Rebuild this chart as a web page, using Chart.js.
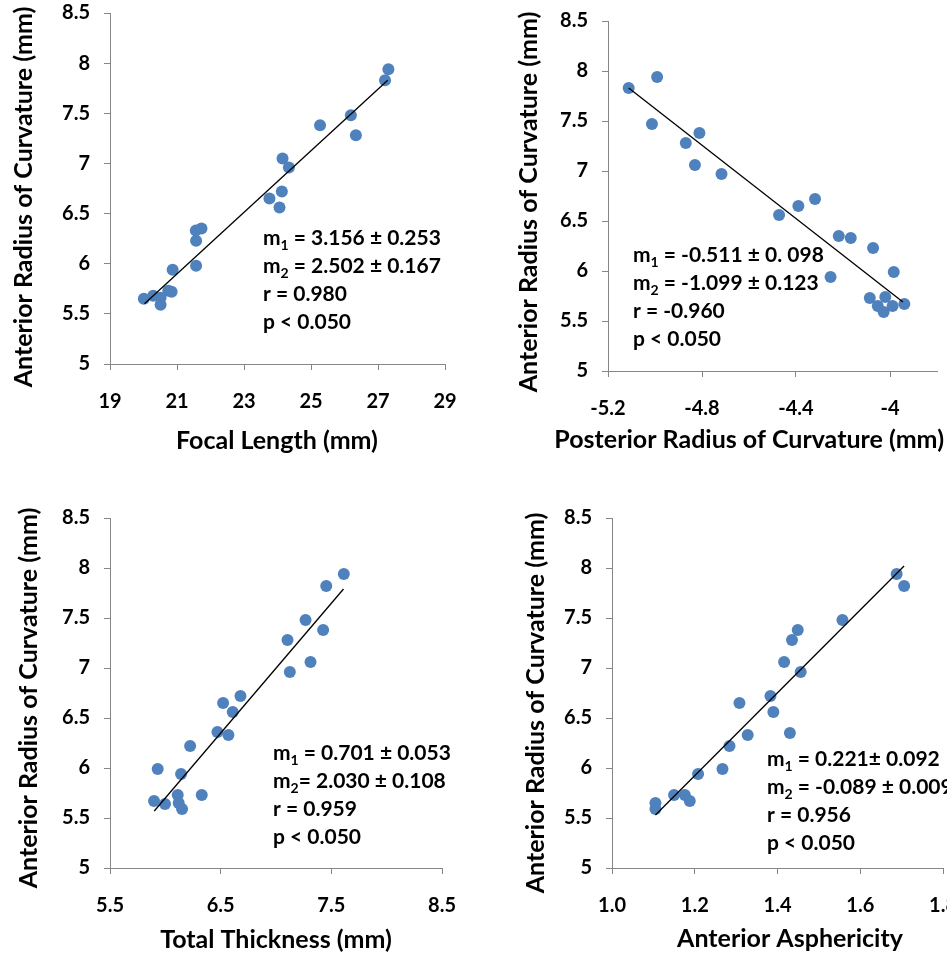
<meta charset="utf8"/>
<style>
html, body { margin: 0; padding: 0; background: #fff; overflow: hidden; width: 947px; height: 957px; }
.panel { position: absolute; }
</style>

<div id="_p1" class="panel" style="left:0; top:0;"><canvas width="470" height="480"></canvas></div>
<div id="_p2" class="panel" style="left:470px; top:0;"><canvas width="477" height="480"></canvas></div>
<div id="_p3" class="panel" style="left:0; top:490px;"><canvas width="470" height="467"></canvas></div>
<div id="_p4" class="panel" style="left:470px; top:490px;"><canvas width="500" height="467"></canvas></div>

<script src="https://cdn.jsdelivr.net/npm/chart.js@4"></script>
<script>
// anterior radius axis, same for all four plots
const yTicks = [5, 5.5, 6, 6.5, 7, 7.5, 8, 8.5];

// focal length vs anterior radius
const focalLen = [20.01, 20.29, 20.51, 20.51, 20.74, 20.84, 20.87, 21.57, 21.57, 21.56, 21.73, 23.76, 24.06, 24.13, 24.15, 24.34, 25.27, 26.19, 26.34, 27.21, 27.31];
const antR1    = [5.65, 5.68, 5.66, 5.59, 5.73, 5.72, 5.94, 5.98, 6.23, 6.33, 6.35, 6.65, 6.56, 6.72, 7.05, 6.96, 7.38, 7.48, 7.28, 7.83, 7.94];
const fit1X = [20.03, 27.29];
const fit1Y = [5.60, 7.83];
const xTicks1 = [19, 21, 23, 25, 27, 29];
const stats1 = ['m_1 = 3.156 ± 0.253', 'm_2 = 2.502 ± 0.167', 'r = 0.980', 'p < 0.050'];

// posterior radius vs anterior radius
const postR = [-5.112, -4.991, -5.013, -4.869, -4.811, -4.830, -4.717, -4.472, -4.390, -4.319, -4.218, -4.167, -4.072, -4.253, -3.984, -4.086, -4.020, -4.052, -4.027, -3.989, -3.939];
const antR2 = [7.83, 7.94, 7.47, 7.28, 7.38, 7.06, 6.97, 6.56, 6.65, 6.72, 6.35, 6.33, 6.23, 5.94, 5.99, 5.73, 5.74, 5.65, 5.59, 5.65, 5.67];
const fit2X = [-5.112, -3.945];
const fit2Y = [7.83, 5.69];
const xTicks2 = [-5.2, -4.8, -4.4, -4];
const stats2 = ['m_1 = -0.511 ± 0. 098', 'm_2 = -1.099 ± 0.123', 'r = -0.960', 'p < 0.050'];

// total thickness vs anterior radius
const thick = [5.898, 5.931, 5.997, 6.112, 6.121, 6.151, 6.142, 6.224, 6.329, 6.471, 6.570, 6.522, 6.609, 6.679, 7.104, 7.125, 7.267, 7.312, 7.426, 7.454, 7.613];
const antR3 = [5.67, 5.99, 5.64, 5.73, 5.65, 5.59, 5.94, 6.22, 5.73, 6.36, 6.33, 6.65, 6.56, 6.72, 7.28, 6.96, 7.48, 7.06, 7.38, 7.82, 7.94];
const fit3X = [5.90, 7.61];
const fit3Y = [5.57, 7.79];
const xTicks3 = [5.5, 6.5, 7.5, 8.5];
const stats3 = ['m_1 = 0.701 ± 0.053', 'm_2= 2.030 ± 0.108', 'r = 0.959', 'p < 0.050'];

// anterior asphericity vs anterior radius
const asph  = [1.105, 1.105, 1.150, 1.176, 1.188, 1.208, 1.267, 1.284, 1.308, 1.328, 1.383, 1.390, 1.430, 1.416, 1.435, 1.449, 1.456, 1.557, 1.688, 1.706];
const antR4 = [5.65, 5.59, 5.73, 5.73, 5.67, 5.94, 5.99, 6.22, 6.65, 6.33, 6.72, 6.56, 6.35, 7.06, 7.28, 7.38, 6.96, 7.48, 7.94, 7.82];
const fit4X = [1.105, 1.706];
const fit4Y = [5.53, 8.02];
const xTicks4 = [1.0, 1.2, 1.4, 1.6, 1.8];
const stats4 = ['m_1 = 0.221± 0.092', 'm_2 = -0.089 ± 0.009', 'r = 0.956', 'p < 0.050'];

const FONT = 'Lato';
const AXIS = '#868686';

// axis titles drawn by hand so long titles are not squeezed into the plot width
const titlesPlugin = {
	id: 'axisTitles',
	afterDraw(chart, args, o) {
		const ctx = chart.ctx;
		ctx.save();
		ctx.fillStyle = '#000';
		ctx.font = 'bold ' + o.size + 'px ' + FONT;
		ctx.textBaseline = 'alphabetic';
		ctx.textAlign = o.xAlign || 'center';
		ctx.fillText(o.xText, o.xPos, o.xBase);
		ctx.textAlign = 'center';
		ctx.translate(o.yBase, o.yCenter);
		ctx.rotate(-Math.PI / 2);
		ctx.fillText(o.yText, 0, 0);
		ctx.restore();
	}
};

// regression text block, "_1" means subscript 1
const statsPlugin = {
	id: 'stats',
	afterDraw(chart, args, o) {
		const ctx = chart.ctx;
		ctx.save();
		ctx.fillStyle = '#000';
		ctx.textAlign = 'left';
		ctx.textBaseline = 'alphabetic';
		o.lines.forEach((line, i) => {
			let x = o.x;
			const y = o.y + i * o.lineHeight;
			line.split(/(_\d)/).forEach(part => {
				if (!part) return;
				const sub = part[0] === '_';
				const t = sub ? part.slice(1) : part;
				ctx.font = 'bold ' + (sub ? Math.round(o.size * 0.65) : o.size) + 'px ' + FONT;
				ctx.fillText(t, x, sub ? y + 5 : y);
				x += ctx.measureText(t).width;
			});
		});
		ctx.restore();
	}
};

// scales would otherwise push the plot area in to make room for edge labels
function noEdgePadding(s) {
	s.paddingLeft = s.paddingRight = s.paddingTop = s.paddingBottom = 0;
}

function makeChart(div, xs, ys, fx, fy, xTicks, fmt, c) {
	const pts = xs.map((x, i) => ({x: x, y: ys[i]}));
	const line = fx.map((x, i) => ({x: x, y: fy[i]}));
	const tickFont = {family: FONT, size: 20, weight: 'bold'};
	return new Chart(div.children[0], {
		type: 'scatter',
		data: {
			datasets: [
				{
					type: 'line',
					data: line,
					borderColor: '#000',
					borderWidth: 1.3,
					pointRadius: 0,
					fill: false,
				},
				{
					data: pts,
					backgroundColor: '#4F81BD',
					borderColor: '#4F81BD',
					pointRadius: 6,
					pointBorderWidth: 0,
				},
			]
		},
		options: {
			responsive: false,
			animation: false,
			devicePixelRatio: 1,
			layout: {padding: c.pad},
			scales: {
				x: {
					type: 'linear',
					min: xTicks[0],
					max: c.xMax,
					afterBuildTicks: s => { s.ticks = xTicks.map(v => ({value: v})); },
					afterFit: s => { s.height = c.xHeight; noEdgePadding(s); },
					grid: {drawOnChartArea: false, tickLength: 6, color: AXIS},
					border: {color: AXIS},
					ticks: {font: tickFont, color: '#000', padding: 20, maxRotation: 0, autoSkip: false, callback: fmt},
				},
				y: {
					type: 'linear',
					min: 5,
					max: 8.5,
					afterBuildTicks: s => { s.ticks = yTicks.map(v => ({value: v})); },
					afterFit: s => { s.width = c.yWidth; noEdgePadding(s); },
					grid: {drawOnChartArea: false, tickLength: 6, color: AXIS},
					border: {color: AXIS},
					ticks: {font: tickFont, color: '#000', padding: 14, autoSkip: false, callback: v => String(v)},
				}
			},
			plugins: {
				legend: {display: false},
				tooltip: {enabled: false},
				axisTitles: Object.assign({size: 25, yText: 'Anterior Radius of Curvature (mm)'}, c.titles),
				stats: Object.assign({size: 21, lineHeight: 28}, c.stats),
			}
		},
		plugins: [titlesPlugin, statsPlugin]
	});
}

makeChart(_p1, focalLen, antR1, fit1X, fit1Y, xTicks1, v => String(v), {
	xMax: 29, pad: {left: 0, top: 13, right: 25, bottom: 0}, yWidth: 110, xHeight: 116,
	titles: {xText: 'Focal Length (mm)', xPos: 277, xBase: 449, yCenter: 197, yBase: 32},
	stats: {lines: stats1, x: 263, y: 245},
});

makeChart(_p2, postR, antR2, fit2X, fit2Y, xTicks2, v => String(v), {
	xMax: -3.8, pad: {left: 0, top: 21, right: 10, bottom: 0}, yWidth: 138, xHeight: 109,
	titles: {xText: 'Posterior Radius of Curvature (mm)', xAlign: 'right', xPos: 474, xBase: 448, yCenter: 202, yBase: 67},
	stats: {lines: stats2, x: 163, y: 262},
});

makeChart(_p3, thick, antR3, fit3X, fit3Y, xTicks3, v => String(v), {
	xMax: 8.5, pad: {left: 0, top: 28, right: 28, bottom: 0}, yWidth: 110, xHeight: 89,
	titles: {xText: 'Total Thickness (mm)', xPos: 276, xBase: 458, yCenter: 208, yBase: 37},
	stats: {lines: stats3, x: 273, y: 270},
});

makeChart(_p4, asph, antR4, fit4X, fit4Y, xTicks4, v => v.toFixed(1), {
	xMax: 1.8, pad: {left: 0, top: 28, right: 27, bottom: 0}, yWidth: 142, xHeight: 89,
	titles: {xText: 'Anterior Asphericity', xPos: 320, xBase: 457, yCenter: 213, yBase: 74},
	stats: {lines: stats4, x: 297, y: 276},
});
</script>
